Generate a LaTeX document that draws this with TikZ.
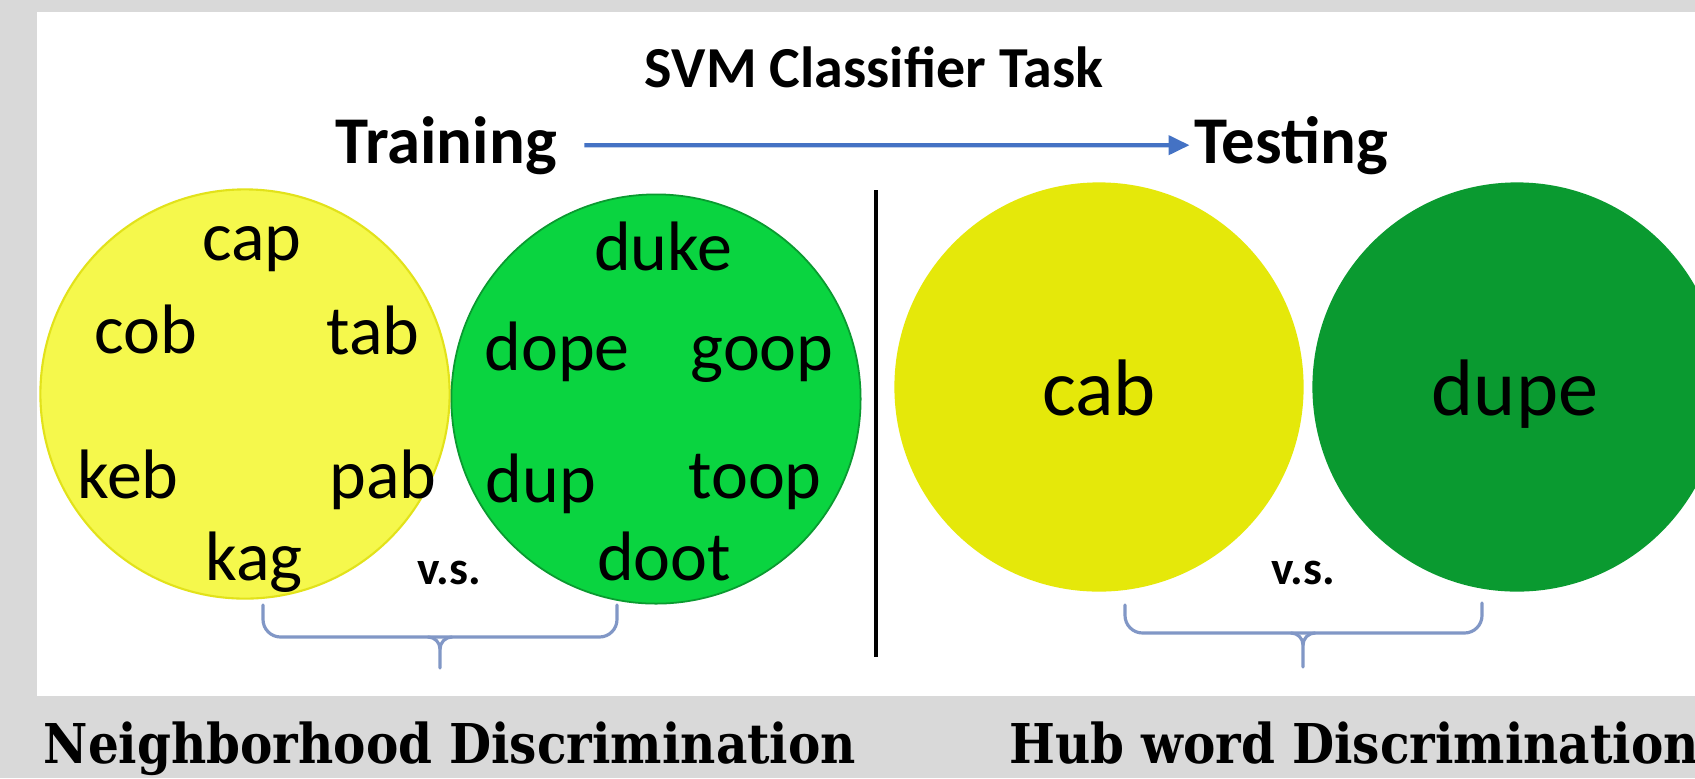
\documentclass[tikz,border=0pt]{standalone}
\usepackage{graphicx}
\usepackage{fontspec}
\setmainfont{Carlito}
\newfontfamily\slabfont{DejaVu Serif}
\usetikzlibrary{arrows.meta,positioning}
\definecolor{pagegray}{HTML}{D9D9D9}
\definecolor{lightyellow}{HTML}{F5F84C}
\definecolor{lightyellowline}{HTML}{E2E21A}
\definecolor{brightgreen}{HTML}{0AD440}
\definecolor{deepyellow}{HTML}{E5E80A}
\definecolor{deepgreen}{HTML}{0A9A30}
\definecolor{arrowblue}{HTML}{4472C4}
\definecolor{bracegray}{HTML}{8197C6}
\newcommand{\narrowtext}[1]{\scalebox{0.885}[1]{#1}}
\tikzset{
    wordcircle/.style={circle, minimum size=4.09cm, inner sep=0pt},
    wordlabel/.style={anchor=base, inner sep=0pt, font=\fontsize{19.9}{24}\selectfont},
    testword/.style={anchor=base, inner sep=0pt, font=\fontsize{22.8}{27}\selectfont},
    phaselabel/.style={anchor=base, inner sep=0pt, font=\bfseries\fontsize{19}{23}\selectfont},
    tasklabel/.style={anchor=base, inner sep=0pt, font=\bfseries\fontsize{16.5}{20}\selectfont},
    vslabel/.style={inner sep=0pt, font=\bfseries\fontsize{13.5}{16}\selectfont},
    bandlabel/.style={anchor=base west, inner sep=0pt, font=\slabfont\bfseries\fontsize{15.6}{19}\selectfont},
    phasearrow/.style={-{Triangle[length=0.21cm,width=0.19cm]}, arrowblue, line width=1.2pt},
    bracket/.style={bracegray, line width=0.9pt, line cap=round}
}

\begin{document}
\begin{tikzpicture}[x=0.01cm, y=-0.01cm]
    \useasboundingbox (0,0) rectangle (1695,778);
    \clip (0,0) rectangle (1695,778);
    \fill[pagegray] (0,0) rectangle (1695,778);
    \fill[white] (37,12) rectangle (1695,696);

    % title and phases
    \node[tasklabel] (task) at (874,87) {SVM Classifier Task};
    \node[phaselabel] (train) at (446,163) {Training};
    \node[phaselabel] (test) at (1291,163) {Testing};
    \draw[phasearrow] ([xshift=0.27cm]train.east) -- ([xshift=-0.04cm]test.west);

    % training circles
    \node[wordcircle, fill=lightyellow, draw=lightyellowline, line width=0.6pt] (neigh1) at (245,394) {};
    \node[wordcircle, fill=brightgreen, draw=deepgreen, line width=0.5pt] (neigh2) at (656,399) {};

    \node[wordlabel] (cap) at (252,260) {cap};
    \node[wordlabel] (cob) at (146,353) {cob};
    \node[wordlabel] (tab) at (373,354) {tab};
    \node[wordlabel] (keb) at (128,498) {keb};
    \node[wordlabel] (pab) at (383,498) {pab};
    \node[wordlabel] (kag) at (254,580) {kag};

    \node[wordlabel] (duke) at (663,270) {duke};
    \node[wordlabel] (dope) at (557,370) {dope};
    \node[wordlabel] (goop) at (762,370) {goop};
    \node[wordlabel] (dup) at (541,502) {dup};
    \node[wordlabel] (toop) at (755,498) {toop};
    \node[wordlabel] (doot) at (664,580) {doot};

    % divider
    \draw[black, line width=1.2pt] (876,190) -- (876,657);

    % testing circles
    \node[wordcircle, fill=deepyellow] (hub1) at (1099,387) {};
    \node[wordcircle, fill=deepgreen] (hub2) at (1517,387) {};
    \node[testword] (cab) at (1099,415) {cab};
    \node[testword] (dupe) at (1515,415) {dupe};

    \node[vslabel] (vs1) at (449,573) {v.s.};
    \node[vslabel] (vs2) at (1303,573) {v.s.};

    % braces
    \draw[bracket, rounded corners=5] (263,605) -- (263,637) -- (617,637) -- (617,605);
    \draw[bracket] (428,637) to[out=0, in=90] (440,649) -- (440,668);
    \draw[bracket] (452,637) to[out=180, in=90] (440,649);
    \draw[bracket, rounded corners=5] (1125,605) -- (1125,633) -- (1482,633) -- (1482,603);
    \draw[bracket] (1291,633) to[out=0, in=90] (1303,645) -- (1303,667);
    \draw[bracket] (1315,633) to[out=180, in=90] (1303,645);

    % band labels
    \node[bandlabel] (nd) at (43,763) {\narrowtext{Neighborhood Discrimination}};
    \node[bandlabel] (hd) at (1009,763) {\narrowtext{Hub word Discrimination}};
\end{tikzpicture}
\end{document}
